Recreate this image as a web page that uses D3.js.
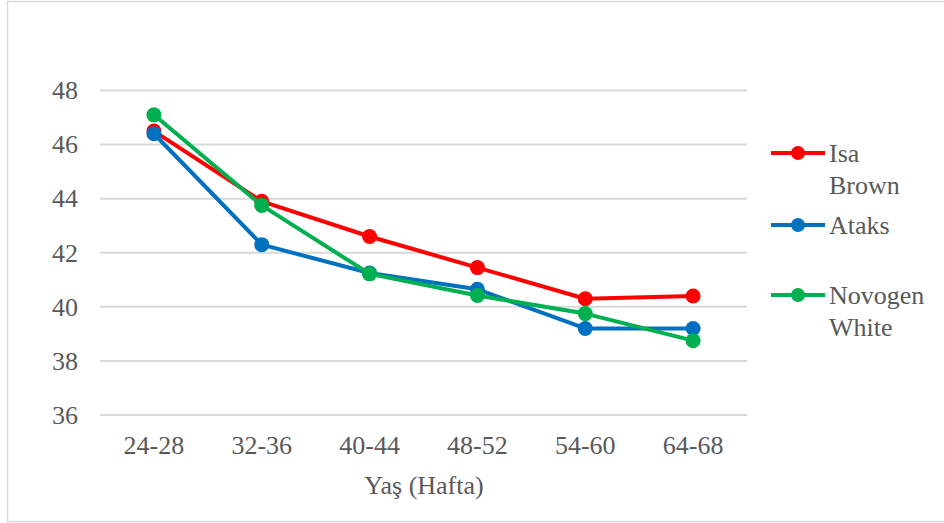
<!DOCTYPE html>
<html>
<head>
<meta charset="utf-8">
<script src="https://cdn.jsdelivr.net/npm/d3@7"></script>
</head>
<body style="margin:0;background:#fff">
<svg id="chart" width="944" height="523" style="display:block"></svg>
<script>
// Age groups (weeks)
const categories = ["24-28", "32-36", "40-44", "48-52", "54-60", "64-68"];

// Values per strain
const isaBrown     = [46.5, 43.9, 42.6, 41.45, 40.3, 40.4];
const ataks        = [46.4, 42.3, 41.25, 40.65, 39.2, 39.2];
const novogenWhite = [47.1, 43.75, 41.22, 40.42, 39.75, 38.75];

const seriesNames  = [["Isa", "Brown"], ["Ataks"], ["Novogen", "White"]];
const seriesColors = ["#FF0000", "#0070C0", "#00B050"];
const yTicks = [36, 38, 40, 42, 44, 46, 48];
const xTitle = "Yaş (Hafta)";

const series = [isaBrown, ataks, novogenWhite].map((values, i) => ({
  name: seriesNames[i], color: seriesColors[i], values
}));

const FONT = '"Liberation Serif", "Times New Roman", serif';
const FONT_SIZE = 26;
const TEXT_COLOR = "#595959";
const svg = d3.select("#chart");
const W = 944;
const plot = { left: 100, right: 747, top: 90.5, bottom: 415 };

// Serif text styling applied directly on every label
function serif(sel) {
  sel.attr("font-family", FONT)
    .attr("font-size", FONT_SIZE)
    .style("font-family", FONT)
    .style("font-size", FONT_SIZE + "px")
    .style("fill", TEXT_COLOR);
  return sel;
}

// Outer frame
svg.append("rect")
  .attr("x", 7.5).attr("y", 1.5)
  .attr("width", W - 2).attr("height", 520)
  .attr("fill", "#fff").attr("stroke", "#d9d9d9").attr("stroke-width", 1.5);

const x = d3.scaleBand().domain(categories).range([plot.left, plot.right]);
const y = d3.scaleLinear().domain([36, 48]).range([plot.bottom, plot.top]);

// Horizontal gridlines
svg.append("g")
  .selectAll("line").data(yTicks).join("line")
  .attr("x1", plot.left).attr("x2", plot.right)
  .attr("y1", d => y(d)).attr("y2", d => y(d))
  .attr("stroke", "#d9d9d9").attr("stroke-width", 2);

// Y axis labels
const yAxis = svg.append("g")
  .attr("transform", `translate(${plot.left},0)`)
  .call(d3.axisLeft(y).tickValues(yTicks).tickSize(0).tickPadding(22));
yAxis.attr("font-family", FONT);
yAxis.select(".domain").remove();
yAxis.selectAll("text").call(serif);

// X axis labels
const xAxis = svg.append("g")
  .attr("transform", `translate(0,${plot.bottom})`)
  .call(d3.axisBottom(x).tickSize(0).tickPadding(21));
xAxis.attr("font-family", FONT);
xAxis.select(".domain").remove();
xAxis.selectAll("text").call(serif);

// X axis title
svg.append("text")
  .attr("x", (plot.left + plot.right) / 2 + 0.5)
  .attr("y", 494)
  .attr("text-anchor", "middle")
  .call(serif)
  .text(xTitle);

// Lines and markers
const line = d3.line()
  .x((d, i) => x(categories[i]) + x.bandwidth() / 2)
  .y(d => y(d));

series.forEach(s => {
  const g = svg.append("g");
  g.append("path")
    .attr("d", line(s.values))
    .attr("fill", "none")
    .attr("stroke", s.color)
    .attr("stroke-width", 4)
    .attr("stroke-linejoin", "round");
  g.selectAll("circle").data(s.values).join("circle")
    .attr("cx", (d, i) => x(categories[i]) + x.bandwidth() / 2)
    .attr("cy", d => y(d))
    .attr("r", 7.5)
    .attr("fill", s.color);
});

// Legend
const legendRows = [153, 225, 295];
series.forEach((s, i) => {
  const g = svg.append("g").attr("transform", `translate(771,${legendRows[i]})`);
  g.append("line")
    .attr("x1", 0).attr("x2", 54)
    .attr("stroke", s.color).attr("stroke-width", 4);
  g.append("circle").attr("cx", 27).attr("r", 7).attr("fill", s.color);
  s.name.forEach((part, k) => {
    g.append("text")
      .attr("x", 58)
      .attr("y", 9 + k * 32)
      .call(serif)
      .text(part);
  });
});
</script>
</body>
</html>
